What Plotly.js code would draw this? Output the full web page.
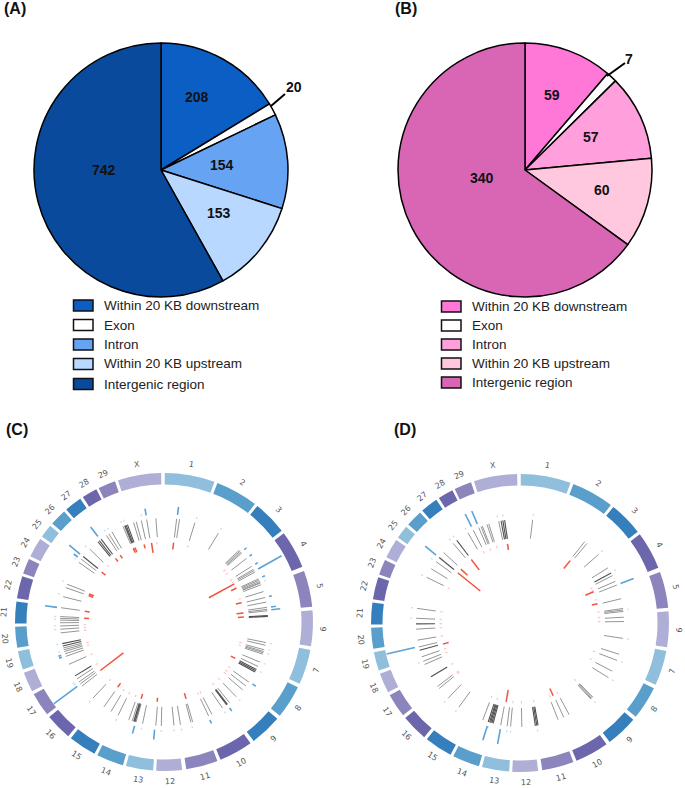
<!DOCTYPE html>
<html><head><meta charset="utf-8">
<script src="https://cdn.plot.ly/plotly-3.0.1.min.js"></script>
<style>html,body{margin:0;padding:0;background:#fff}#g{width:685px;height:788px}</style>
</head><body><div id="g"></div>
<script>
const W=685,H=788;
// Pie data
const pieLabels=['Within 20 KB downstream','Exon','Intron','Within 20 KB upstream','Intergenic region'];
const pieValuesA=[208,20,154,153,742];
const pieValuesB=[59,7,57,60,340];
const pieColorsA=['#0b5fc4','#ffffff','#66a3f2','#b8d8ff','#0a4a9c'];
const pieColorsB=['#ff78d8','#ffffff','#ffa0dc','#ffc8de','#d866b4'];
// Chromosome ring
const chromNames=['1','2','3','4','5','6','7','8','9','10','11','12','13','14','15','16','17','18','19','20','21','22','23','24','25','26','27','28','29','X'];
const chromStart=[0.3,21,38.8,53.5,70,85.5,100.8,116,130.5,144.5,159,173,184.2,196,207.8,220,231.7,242.3,251.4,260,269.4,279.2,289,296.2,305,311.4,319,327,334,342];
const chromEnd=[19.8,37.6,52.2,68.2,84.1,99.4,114.5,129,143,157.7,171.4,183,194.8,206.6,218.7,230.4,241,250.1,258.7,268.2,277.9,287.9,295,303.8,310.2,317.9,325.8,333,340.8,358.9];
const chromPalette=['#8fbfdc','#5a9fcc','#3580bc','#6c66ac','#8c84bc','#aeaed6'];
// Panel C tracks (angles in degrees)
const cLines=[7,8.6,17.3,31.5,46.3,47,47.7,48.4,52.4,57.6,59.5,60.3,61.2,65.5,66.2,67,67.7,68,69,73,76.4,79,81.9,83,83.8,101.4,102.9,105.5,106.5,107.2,108,112.7,115.3,125.3,128,130.8,136,140.9,145.8,152.6,154.6,164,165,170.9,174.5,181.5,184.5,191.9,195.6,196.7,197.8,199.8,206.2,210.6,215.3,223,232,233.5,234.8,236.8,246,250.7,252.2,253.5,254.5,255.5,264,266,267.8,269.6,271,272,273,277.9,284.1,289.3,291.3,305,307.2,314.5,326.4,328,330,336.8,337.6,343,344.5,347.4,350.4,355.5];
const cDark=[86.4,86.9,117.2,118,118.8,142.4,142.9,196.2,196.9,238.8,256.7,258,309,320.5,321.5,322.8,338,338.6,339.4];
const cRedAngle=[6.9,61.6,65,76,83.6,86.5,117,164,232.7,215.4,196.6,184.9,351,345.6,337.4,338.7,326.8,322.7,308.7,290.5,289.3,277.7,272.7];
const cRedTip=[73,51,74,74,73,74,75,74,51,75,75,76,70,76,75,75,76,76,75,75,75,75,75];
const cBlueAngle=[7.2,48,52.4,57.7,60.6,65.4,76.3,82,83.5,125,142.7,154.9,195.8,185,233.4,251,252,277.8,307,309,322.3,350.5];
const cBlueTip=[116,111,111,111,135,111,111,113,117,112,112,112,116,118,137,111,111,120,113,122,120,115];
const cPaleRed=[17.4,49.6,52.5,58,60,64,73,105,107,124.7,128,130,136,141.6,152.6,154.6,201,206,210.6,223,238,246,253,255,264,266,268,315,354.8];
const cPaleBlue=[17.5,31.5,67.8,101.5,105,107,112.6,117.3,136,146,165,170.8,174.7,181.5,192,206,223,235,236,254,258,266,268,271.5,273,285,292,305.5,314,327,329,336.8,338.5,348];
// Panel D tracks
const dLines=[7,38.5,40.1,48.9,57.9,62.9,66.4,68.6,76.5,82,82.8,83.6,86.8,89.2,98.5,107.5,111.1,117.6,121.7,135.5,136,136.6,137,151.8,155.1,158.5,179,185.2,187.1,190.7,201,216,223.7,231,232.4,246.5,248.4,251,256.7,260.5,266.6,272.6,278.1,296.1,301.4,306.2,312.7,320,330,333.3,336.6,338,338.8,341.5,342.5,348.2];
const dDark=[61.2,170,170.7,171.5,195,195.7,196.4,197,197.8,238.9,254.8,269.5,309,322.6,349.5,350.5,351.5];
const dRedAngle=[38.8,67,76,155.5,190,254.7,322.5,312.3,308.9,351];
const dRedTip=[70,71,74,72,68,74,67,71,51,74];
const dBlueAngle=[68.6,197.6,190.5,256.9,333.3,336.7,309];
const dBlueTip=[122,123,123,137,122,122,122];
const dPaleRed=[39,64,66,73,82,86,89,111,117,136,152,158,170,179,185,196.6,201,231,232,238.9,248,251,260.5,266.6,269.5,272.6,278.1,296,333,338,343];
const dPaleBlue=[7,48.7,61,82.7,98.5,111,121.7,136.5,170.7,185,187,197,216,223.7,248.4,272.6,278,296,306,320,322.5,330,336.6,348,351];

const font='"Liberation Sans",Arial,sans-serif';
const px=x=>x/W, py=y=>1-y/H;
function segs(a,r0,r1){
  const theta=[],r=[];
  a.forEach((v,i)=>{theta.push(v,v,null);r.push(r0,Array.isArray(r1)?r1[i]:r1,null);});
  return {theta,r};
}
const traces=[],annotations=[],shapes=[];
function pie(vals,cols,cx,cy,R){
  traces.push({type:'pie',values:vals,labels:pieLabels,sort:false,direction:'clockwise',rotation:0,
    textinfo:'none',hoverinfo:'label+value',showlegend:false,
    marker:{colors:cols,line:{color:'#000',width:1.5}},
    domain:{x:[px(cx-R),px(cx+R)],y:[py(cy+R),py(cy-R)]}});
}
pie(pieValuesA,pieColorsA,161,170,127);
pie(pieValuesB,pieColorsB,525,170,127);
function note(text,x,y,size,opt){
  annotations.push(Object.assign({text:String(text),xref:'paper',yref:'paper',x:px(x),y:py(y),showarrow:false,
    xanchor:'center',yanchor:'middle',font:{family:font,size:size,color:'#111'}},opt||{}));
}
// pie value labels
[[197,97],[294,87],[222,165],[219,213],[104,170]].forEach((p,i)=>note('<b>'+pieValuesA[i]+'</b>',p[0],p[1],14));
[[552,95],[629,59],[591,137],[602,190],[482,178]].forEach((p,i)=>note('<b>'+pieValuesB[i]+'</b>',p[0],p[1],14));
shapes.push({type:'line',xref:'paper',yref:'paper',x0:px(271),y0:py(106),x1:px(285),y1:py(94),line:{color:'#000',width:2}});
shapes.push({type:'line',xref:'paper',yref:'paper',x0:px(607),y0:py(76),x1:px(625),y1:py(63),line:{color:'#000',width:2}});
// panel letters
[['(A)',15,9],['(B)',406,9],['(C)',17,429],['(D)',405,429]].forEach(l=>note('<b>'+l[0]+'</b>',l[1],l[2],16));
// legends
function legend(cols,x,ys){
  pieLabels.forEach((t,i)=>{
    shapes.push({type:'rect',xref:'paper',yref:'paper',x0:px(x),x1:px(x+19.5),y0:py(ys[i]-5.5),y1:py(ys[i]+5.5),
      fillcolor:cols[i],line:{color:'#111',width:1.5}});
    note(t,x+28.5,ys[i],13.5,{xanchor:'left',font:{family:font,size:13.5,color:'#222'}});
  });
}
legend(pieColorsA,73.5,[305.5,325,344.5,364,384]);
legend(pieColorsB,441.5,[306.5,325.5,344.5,363.5,382.5]);
// circos panels
const Rmax=155;
const mids=chromStart.map((s,i)=>(s+chromEnd[i])/2);
function circos(key,cx,cy,lines,dark,redA,redT,blueA,blueT,paleR,paleB){
  const sp='polar'+key;
  traces.push({type:'barpolar',subplot:sp,theta:mids,width:chromStart.map((s,i)=>chromEnd[i]-s),
    base:chromStart.map(()=>137.5),r:chromStart.map(()=>11.5),
    marker:{color:chromStart.map((s,i)=>chromPalette[i%6]),line:{width:0}},hoverinfo:'skip',showlegend:false});
  const add=(seg,color,width)=>traces.push(Object.assign({type:'scatterpolar',subplot:sp,mode:'lines',
    line:{color:color,width:width},hoverinfo:'skip',showlegend:false,connectgaps:false},seg));
  add(segs(paleR,78,80.5),'#ffc6be',1.2);
  add(segs(paleB,108,110),'#bfdcf4',1.2);
  add(segs(lines,85,104),'#969696',1);
  add(segs(dark,85,104),'#505050',1.1);
  add(segs(redA,80,redT),'#f2523e',1.5);
  add(segs(blueA,108,blueT),'#5aa2d8',1.6);
  mids.forEach((m,i)=>{
    const a=m*Math.PI/180,x=cx+160*Math.sin(a),y=cy-160*Math.cos(a);
    const ang=(m>90&&m<270)?m-180:(m>=270?m-360:m);
    note(chromNames[i],x,y,8,{textangle:ang,font:{family:'"DejaVu Sans",sans-serif',size:8,color:'#555'}});
  });
  return {domain:{x:[px(cx-Rmax),px(cx+Rmax)],y:[py(cy+Rmax),py(cy-Rmax)]},bgcolor:'rgba(0,0,0,0)',
    radialaxis:{visible:false,range:[0,Rmax],showgrid:false},
    angularaxis:{visible:false,direction:'clockwise',rotation:90,showgrid:false},
    bargap:0,barmode:'overlay'};
}
const polarC=circos('',164,622,cLines,cDark,cRedAngle,cRedTip,cBlueAngle,cBlueTip,cPaleRed,cPaleBlue);
const polarD=circos('2',520,623,dLines,dDark,dRedAngle,dRedTip,dBlueAngle,dBlueTip,dPaleRed,dPaleBlue);
Plotly.newPlot('g',traces,{width:W,height:H,margin:{l:0,r:0,t:0,b:0},paper_bgcolor:'#fff',plot_bgcolor:'#fff',
  showlegend:false,polar:polarC,polar2:polarD,annotations:annotations,shapes:shapes},{displayModeBar:false,staticPlot:true});
</script></body></html>
